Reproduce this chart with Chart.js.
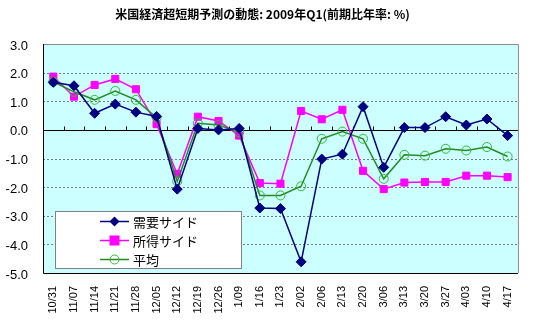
<!DOCTYPE html>
<html>
<head>
<meta charset="utf-8">
<script src="https://cdn.jsdelivr.net/npm/chart.js@4.4.1/dist/chart.umd.min.js"></script>
<style>
  body { margin: 0; background: #ffffff; }
  #wrap { width: 534px; height: 322px; position: relative; }
</style>
</head>
<body>
<div id="wrap"><canvas id="c"></canvas></div>
<script>
var labels = ['10/31', '11/07', '11/14', '11/21', '11/28', '12/05', '12/12', '12/19', '12/26', '1/09', '1/16', '1/23',
    '2/02', '2/06', '2/13', '2/20', '3/06', '3/13', '3/20', '3/27', '4/03', '4/10', '4/17'];
var demand = [1.66, 1.54, 0.58, 0.9, 0.62, 0.47, -2.07, 0.05, 0.0, 0.05, -2.73, -2.75,
    -4.61, -1.02, -0.85, 0.81, -1.31, 0.08, 0.08, 0.46, 0.17, 0.38, -0.2];
var income = [1.86, 1.16, 1.57, 1.78, 1.42, 0.2, -1.54, 0.46, 0.31, -0.2, -1.86, -1.88,
    0.66, 0.37, 0.7, -1.43, -2.07, -1.84, -1.82, -1.82, -1.6, -1.6, -1.65];
var average = [1.68, 1.33, 1.05, 1.36, 1.05, 0.43, -1.8, 0.23, 0.17, -0.08, -2.29, -2.29,
    -1.97, -0.31, -0.06, -0.31, -1.71, -0.87, -0.9, -0.66, -0.72, -0.6, -0.93];
var yTicks = [3, 2, 1, 0, -1, -2, -3, -4, -5];

var numFont = '"Liberation Sans", Arial, sans-serif';
var jpFont = '"Noto Sans CJK JP", "Liberation Sans", sans-serif';

var plotDecor = {
    id: 'plotDecor',
    beforeDraw: function (chart) {
        var a = chart.chartArea, ctx = chart.ctx;
        ctx.save();
        ctx.fillStyle = '#ccffff';
        ctx.fillRect(a.left, a.top, a.right - a.left, a.bottom - a.top);
        ctx.restore();
    },
    beforeDatasetsDraw: function (chart) {
        var a = chart.chartArea, ctx = chart.ctx;
        var ys = chart.scales.y;
        ctx.save();
        // dotted grid lines
        ctx.strokeStyle = '#7a7a7a';
        ctx.lineWidth = 1;
        ctx.setLineDash([2, 2]);
        ctx.beginPath();
        yTicks.forEach(function (v) {
            if (v === 0 || v === ys.min || v === ys.max) return;
            var gy = Math.round(ys.getPixelForValue(v)) + 0.5;
            ctx.moveTo(a.left, gy);
            ctx.lineTo(a.right, gy);
        });
        ctx.stroke();
        ctx.setLineDash([]);
        var y0 = Math.round(ys.getPixelForValue(0)) + 0.5;
        ctx.strokeStyle = '#000000';
        ctx.beginPath();
        ctx.moveTo(a.left, y0);
        ctx.lineTo(a.right, y0);
        // category tick marks on the zero line
        var step = (a.right - a.left) / labels.length;
        for (var i = 1; i < labels.length; i++) {
            var tx = Math.round(a.left + step * i) + 0.5;
            ctx.moveTo(tx, y0);
            ctx.lineTo(tx, y0 - 4);
        }
        ctx.stroke();
        // frame: gray top/right, black left/bottom
        ctx.strokeStyle = '#8c8c8c';
        ctx.beginPath();
        ctx.moveTo(a.left, a.top + 0.5);
        ctx.lineTo(a.right + 0.5, a.top + 0.5);
        ctx.lineTo(a.right + 0.5, a.bottom);
        ctx.stroke();
        ctx.strokeStyle = '#000000';
        ctx.beginPath();
        ctx.moveTo(a.left + 0.5, a.top);
        ctx.lineTo(a.left + 0.5, a.bottom + 0.5);
        ctx.lineTo(a.right, a.bottom + 0.5);
        ctx.stroke();
        ctx.restore();
    },
    afterDraw: function (chart) {
        var ctx = chart.ctx;
        var bx = 55.5, by = 211.5, bw = 186, bh = 57;
        ctx.save();
        ctx.fillStyle = '#ffffff';
        ctx.fillRect(bx, by, bw, bh);
        ctx.strokeStyle = '#808080';
        ctx.lineWidth = 1;
        ctx.strokeRect(bx, by, bw, bh);
        var rows = [221.5, 240.5, 259.5];
        var mx = 114.5;
        chart.data.datasets.forEach(function (ds, i) {
            var y = rows[i];
            ctx.strokeStyle = ds.borderColor;
            ctx.lineWidth = ds.borderWidth;
            ctx.beginPath();
            ctx.moveTo(100, y);
            ctx.lineTo(129, y);
            ctx.stroke();
            ctx.fillStyle = ds.pointBackgroundColor;
            ctx.strokeStyle = ds.pointBorderColor;
            ctx.lineWidth = ds.pointBorderWidth;
            ctx.beginPath();
            if (ds.pointStyle === 'circle') {
                ctx.arc(mx, y, ds.pointRadius, 0, Math.PI * 2);
                ctx.stroke();
            } else if (ds.pointStyle === 'rect') {
                ctx.fillRect(mx - 5, y - 5, 10, 10);
            } else {
                ctx.moveTo(mx, y - 5);
                ctx.lineTo(mx + 5, y);
                ctx.lineTo(mx, y + 5);
                ctx.lineTo(mx - 5, y);
                ctx.closePath();
                ctx.fill();
            }
            ctx.fillStyle = '#000000';
            ctx.font = '13px ' + jpFont;
            ctx.textBaseline = 'middle';
            ctx.textAlign = 'left';
            ctx.fillText(ds.label, 133, y + 1);
        });
        ctx.restore();
    }
};

new Chart(document.getElementById('c'), {
    type: 'line',
    data: {
        labels: labels,
        datasets: [
            { label: '需要サイド', data: demand, borderColor: '#000080', backgroundColor: '#000080',
              pointStyle: 'rectRot', pointRadius: 5, pointBackgroundColor: '#000080', pointBorderColor: '#000080',
              pointBorderWidth: 1, borderWidth: 1.5, tension: 0, order: 0 },
            { label: '所得サイド', data: income, borderColor: '#ff00ff', backgroundColor: '#ff00ff',
              pointStyle: 'rect', pointRadius: 5, pointBackgroundColor: '#ff00ff', pointBorderColor: '#ff00ff',
              pointBorderWidth: 1, borderWidth: 1.5, tension: 0, order: 2 },
            { label: '平均', data: average, borderColor: '#228b22', backgroundColor: 'rgba(0,0,0,0)',
              pointStyle: 'circle', pointRadius: 4.5, pointBackgroundColor: 'rgba(0,0,0,0)', pointBorderColor: '#33bb33',
              pointBorderWidth: 1, borderWidth: 1.5, tension: 0, order: 1 }
        ]
    },
    options: {
        responsive: true,
        maintainAspectRatio: false,
        animation: false,
        layout: { padding: { left: 0, right: 9, top: 0, bottom: 0 } },
        plugins: {
            legend: { display: false },
            tooltip: { enabled: false },
            title: {
                display: true,
                text: '米国経済超短期予測の動態: 2009年Q1(前期比年率: %)',
                color: '#000000',
                font: { family: jpFont, size: 12, weight: 'bold' },
                padding: { top: 7, bottom: 22.6 }
            }
        },
        scales: {
            x: {
                offset: true,
                grid: { display: false, drawTicks: false },
                border: { display: false },
                ticks: {
                    color: '#000000',
                    font: { family: numFont, size: 11 },
                    minRotation: 90,
                    maxRotation: 90,
                    autoSkip: false,
                    padding: 13
                },
                afterFit: function (s) { s.height = 49; }
            },
            y: {
                min: -5,
                max: 3,
                afterBuildTicks: function (s) { s.ticks = yTicks.map(function (v) { return { value: v }; }); },
                grid: { display: false, drawTicks: false },
                border: { display: false },
                ticks: {
                    color: '#000000',
                    font: { family: numFont, size: 13 },
                    padding: 15,
                    labelOffset: 2,
                    callback: function (v) { return Number(v).toFixed(1); }
                },
                afterFit: function (s) { s.width = 43; }
            }
        }
    },
    plugins: [plotDecor]
});
</script>
</body>
</html>
